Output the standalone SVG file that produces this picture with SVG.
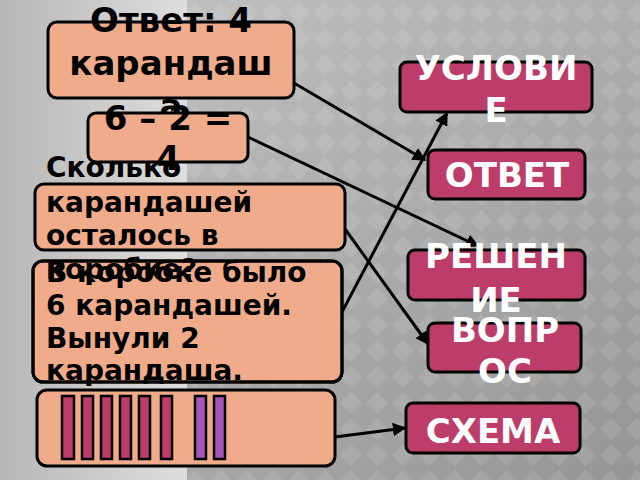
<svg xmlns="http://www.w3.org/2000/svg" width="640" height="480" viewBox="0 0 640 480">
<defs>
<linearGradient id="bgR" x1="0" y1="0" x2="1" y2="1">
<stop offset="0" stop-color="#c6c6c6"/>
<stop offset="1" stop-color="#959595"/>
</linearGradient>
<linearGradient id="bgL" x1="0" y1="0" x2="1" y2="0">
<stop offset="0" stop-color="#b6b6b6"/>
<stop offset="1" stop-color="#dedede"/>
</linearGradient>
<pattern id="dia" width="26" height="26" patternUnits="userSpaceOnUse">
<path d="M13 2 L24 13 L13 24 L2 13 Z" fill="#ffffff" opacity="0.1"/>
</pattern>
<marker id="arr" viewBox="0 0 10 10" refX="9" refY="5" markerWidth="4.5" markerHeight="4.5" orient="auto" markerUnits="strokeWidth">
<path d="M0 0 L10 5 L0 10 Z" fill="#000"/>
</marker>
<style>
.s{fill:#efab8a;stroke:#000;stroke-width:3}
.r{fill:#bc3d6a;stroke:#000;stroke-width:3}
.t{font-family:"DejaVu Sans","Liberation Sans",sans-serif;font-weight:bold;fill:#000}
.w{font-family:"DejaVu Sans","Liberation Sans",sans-serif;font-weight:bold;fill:#fff;font-size:34px;text-anchor:middle}
.c{stroke:#000;stroke-width:3;fill:none;marker-end:url(#arr)}
.p{fill:#bc3d6a;stroke:#000;stroke-width:2.5}
.v{fill:#a656b6;stroke:#000;stroke-width:2.5}
</style>
</defs>
<rect x="0" y="0" width="640" height="480" fill="url(#bgR)"/>
<rect x="0" y="0" width="640" height="480" fill="url(#dia)"/>
<rect x="0" y="0" width="187" height="480" fill="url(#bgL)"/>
<g id="connectors">
<line class="c" x1="294" y1="83" x2="425" y2="160"/>
<line class="c" x1="248" y1="137" x2="478" y2="246"/>
<line class="c" x1="345" y1="229" x2="428" y2="344"/>
<line class="c" x1="342" y1="312" x2="447" y2="113"/>
<line class="c" x1="335" y1="437" x2="405" y2="428"/>
</g>
<g id="answer-box">
<rect class="s" x="48" y="22" width="246" height="76" rx="9"/>
<text class="t" font-size="34" text-anchor="middle"><tspan x="171" y="32">Ответ: 4</tspan><tspan x="171" y="75">карандаш</tspan><tspan x="171" y="118">а</tspan></text>
</g>
<g id="solution-box">
<rect class="s" x="88" y="113" width="160" height="49" rx="8"/>
<text class="t" font-size="34" text-anchor="middle"><tspan x="168" y="130">6 – 2 =</tspan><tspan x="168" y="170">4</tspan></text>
</g>
<g id="condition-box">
<rect class="s" x="33" y="261" width="309" height="121" rx="10"/>
<text class="t" font-size="28"><tspan x="46" y="282">В коробке было</tspan><tspan x="46" y="315">6 карандашей.</tspan><tspan x="46" y="348">Вынули 2</tspan><tspan x="46" y="380">карандаша.</tspan></text>
<rect x="33" y="261" width="309" height="121" rx="10" fill="none" stroke="#000" stroke-width="3"/>
</g>
<g id="question-box">
<rect class="s" x="35" y="184" width="310" height="66" rx="9"/>
<text class="t" font-size="28"><tspan x="46" y="177">Сколько</tspan><tspan x="46" y="212">карандашей</tspan><tspan x="46" y="245">осталось в</tspan><tspan x="46" y="279">коробке?</tspan></text>
</g>
<g id="scheme-box">
<rect class="s" x="37" y="390" width="298" height="76" rx="10"/>
<rect class="p" x="62" y="396" width="12" height="63"/>
<rect class="p" x="82" y="396" width="11" height="63"/>
<rect class="p" x="101" y="396" width="11" height="63"/>
<rect class="p" x="120" y="396" width="11" height="63"/>
<rect class="p" x="139" y="396" width="11" height="63"/>
<rect class="p" x="161" y="396" width="11" height="63"/>
<rect class="v" x="195" y="396" width="11" height="63"/>
<rect class="v" x="214" y="396" width="11" height="63"/>
</g>
<g id="label-uslovie">
<rect class="r" x="400" y="62" width="192" height="50" rx="7"/>
<text class="w"><tspan x="496" y="80">УСЛОВИ</tspan><tspan x="496" y="122">Е</tspan></text>
</g>
<g id="label-otvet">
<rect class="r" x="428" y="150" width="157" height="49" rx="7"/>
<text class="w" x="507" y="187">ОТВЕТ</text>
</g>
<g id="label-reshenie">
<rect class="r" x="408" y="250" width="177" height="50" rx="7"/>
<text class="w"><tspan x="496" y="268">РЕШЕН</tspan><tspan x="496" y="312">ИЕ</tspan></text>
</g>
<g id="label-vopros">
<rect class="r" x="428" y="323" width="153" height="49" rx="7"/>
<text class="w"><tspan x="505" y="342">ВОПР</tspan><tspan x="505" y="383">ОС</tspan></text>
</g>
<g id="label-skhema">
<rect class="r" x="406" y="403" width="174" height="50" rx="7"/>
<text class="w" x="493" y="443">СХЕМА</text>
</g>
</svg>
